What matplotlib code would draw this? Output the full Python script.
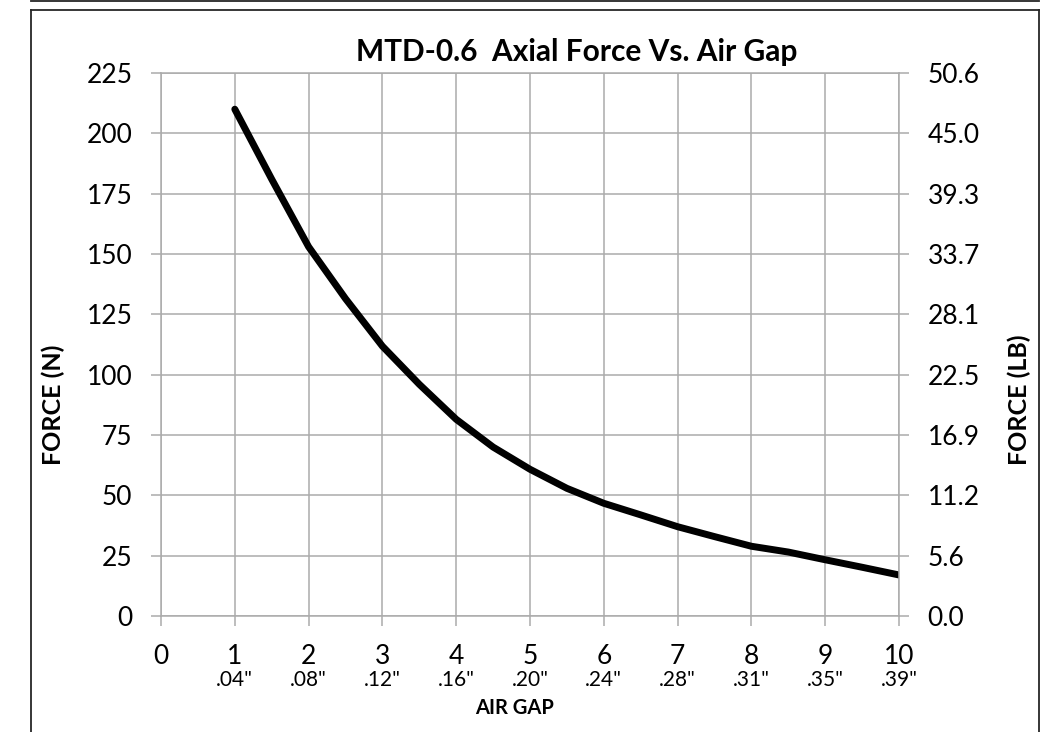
import matplotlib
matplotlib.use("Agg")
import matplotlib.pyplot as plt
from matplotlib.lines import Line2D

W, H = 1042, 732

gap_mm = [1, 1.5, 2, 2.5, 3, 3.5, 4, 4.5, 5, 5.5, 6, 6.5, 7, 7.5, 8, 8.5, 9, 9.5, 10]
force_n = [210, 181, 153, 131.5, 111.8, 96, 81.5, 70, 60.8, 52.9, 46.7, 41.9, 37, 32.9, 28.9, 26.5, 23.3, 20.2, 17]

x_ticks = list(range(0, 11))
x_inch_labels = ['', '.04"', '.08"', '.12"', '.16"', '.20"', '.24"', '.28"', '.31"', '.35"', '.39"']
y_ticks = list(range(0, 226, 25))
lb_labels = ['0.0', '5.6', '11.2', '16.9', '22.5', '28.1', '33.7', '39.3', '45.0', '50.6']

FONT = ['Lato', 'DejaVu Sans']
plt.rcParams['font.family'] = FONT

grid_c = '#ababab'

fig = plt.figure(figsize=(W / 100, H / 100), dpi=100)

def fx(px):
    return px / W

def fy(py):
    return 1 - py / H

ax = fig.add_axes([fx(161), fy(616), fx(899) - fx(161), fy(73) - fy(616)])
ax.set_xlim(0, 10)
ax.set_ylim(0, 225)
ax.set_xticks(x_ticks)
ax.set_yticks(y_ticks)
ax.grid(True, color=grid_c, linewidth=1.1)
ax.set_axisbelow(True)
for s in ax.spines.values():
    s.set_color(grid_c)
    s.set_linewidth(1.1)
ax.tick_params(axis='both', colors=grid_c, length=7.5, width=1.1, labelcolor='black', labelsize=19)
ax.tick_params(axis='y', pad=13)
ax.tick_params(axis='x', pad=13)

ax.plot(gap_mm, force_n, color='black', linewidth=5, solid_capstyle='round', solid_joinstyle='round')

ax2 = ax.twinx()
ax2.set_ylim(0, 225)
ax2.set_yticks(y_ticks)
ax2.set_yticklabels(lb_labels)
for s in ax2.spines.values():
    s.set_visible(False)
ax2.tick_params(axis='y', colors=grid_c, length=7.5, width=1.1, labelcolor='black', labelsize=19, pad=13)

# secondary inch labels under x ticks
tr = ax.get_xaxis_transform()
for xv, lab in zip(x_ticks, x_inch_labels):
    if lab:
        ax.text(xv, -0.118, lab, transform=tr, ha='center', va='center', fontsize=15, color='black')

fig.text(fx(577), fy(52), 'MTD-0.6  Axial Force Vs. Air Gap', ha='center', va='center',
         fontsize=21.5, fontweight='bold')
fig.text(fx(515), fy(708), 'AIR GAP', ha='center', va='center', fontsize=14.5, fontweight='bold')
fig.text(fx(53), fy(405), 'FORCE (N)', ha='center', va='center', rotation=90, fontsize=18, fontweight='bold')
fig.text(fx(1019), fy(400), 'FORCE (LB)', ha='center', va='center', rotation=90, fontsize=18, fontweight='bold')

frame_c = '#262626'
lw = 1.3
fig.add_artist(Line2D([fx(31), fx(1039)], [fy(0.8), fy(0.8)], color=frame_c, lw=lw))
fig.add_artist(Line2D([fx(31), fx(1039)], [fy(10), fy(10)], color=frame_c, lw=lw))
fig.add_artist(Line2D([fx(31), fx(31)], [fy(10), fy(732)], color=frame_c, lw=lw))
fig.add_artist(Line2D([fx(1039), fx(1039)], [fy(10), fy(732)], color=frame_c, lw=lw))

fig.savefig('out.png', dpi=100)
